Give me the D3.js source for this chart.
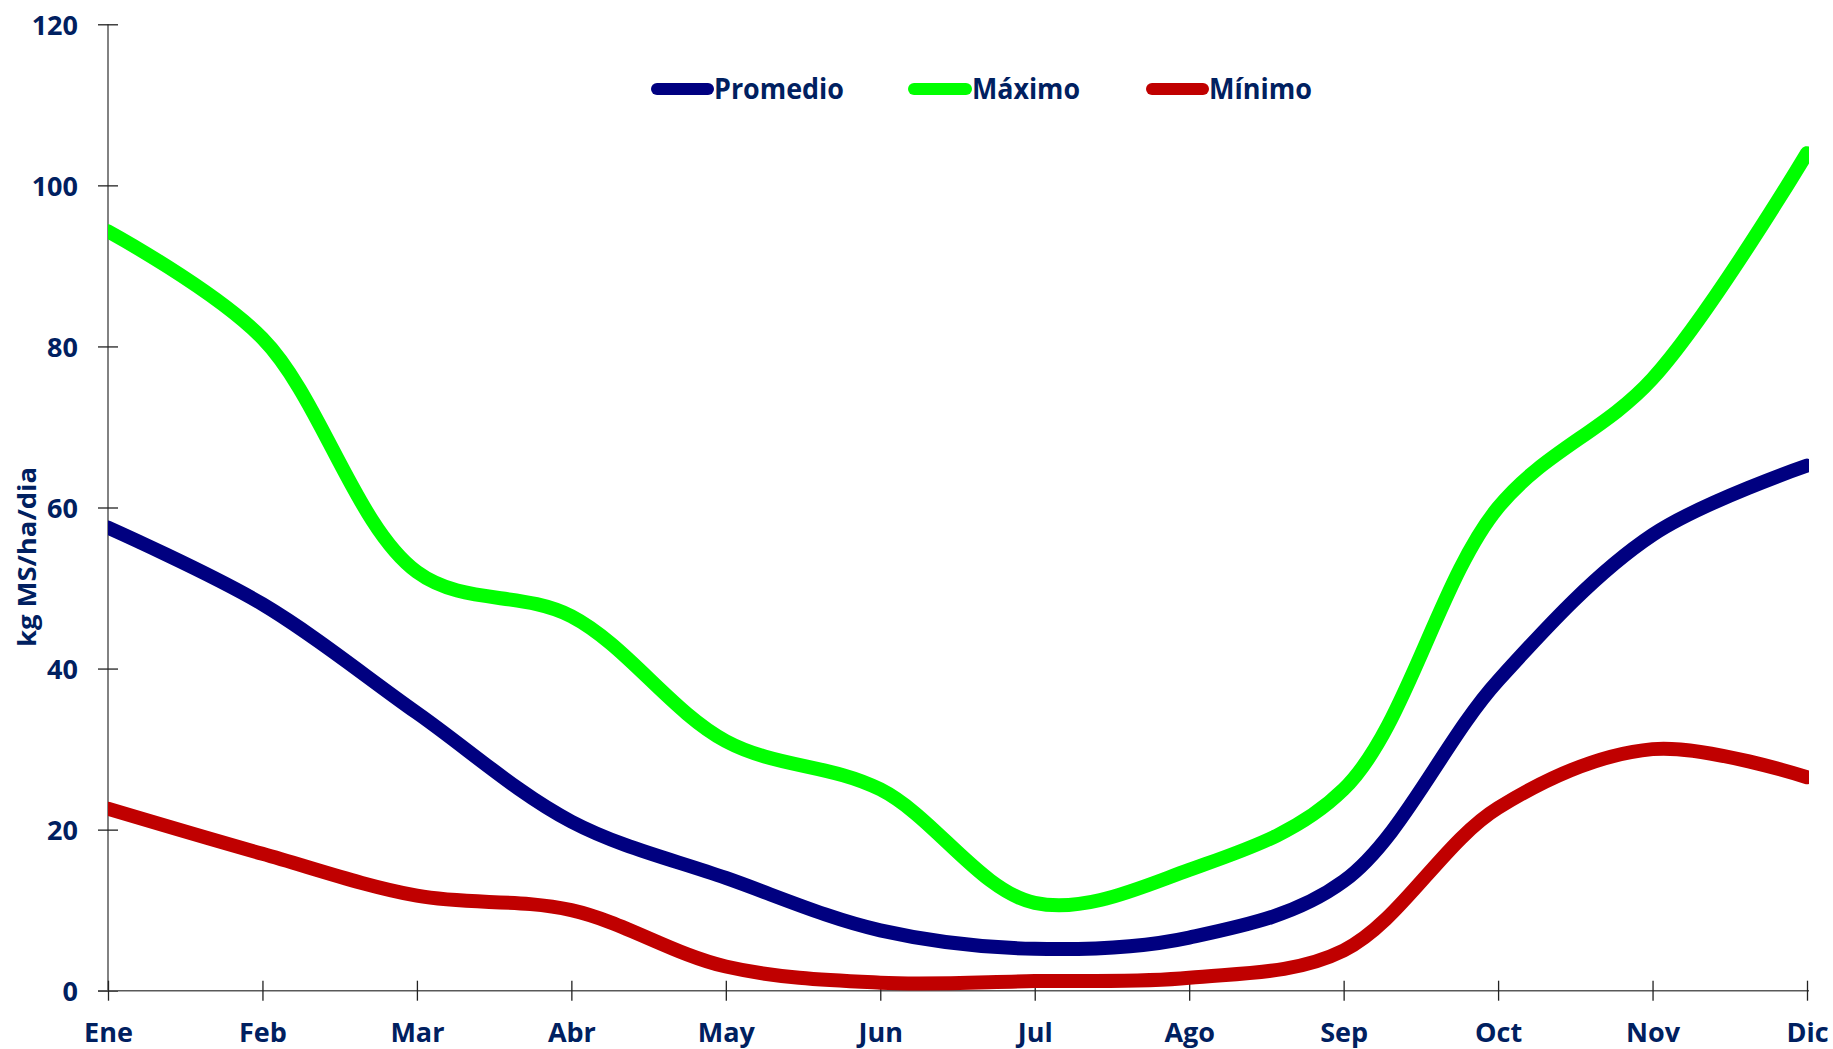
<!DOCTYPE html>
<html>
<head>
<meta charset="utf-8">
<script src="https://cdn.jsdelivr.net/npm/d3@7"></script>
<style>
  html, body { margin: 0; padding: 0; background: #fff; }
  svg { display: block; }
  text { font-family: "Open Sans", "DejaVu Sans", sans-serif; font-weight: 700; fill: #002060; }
</style>
</head>
<body>
<svg id="chart" width="1833" height="1049"></svg>
<script>
// Monthly pasture growth rate (kg MS/ha/dia)
const months = ["Ene", "Feb", "Mar", "Abr", "May", "Jun", "Jul", "Ago", "Sep", "Oct", "Nov", "Dic"];
const promedio = [57.5, 48, 34.5, 21, 14, 7.5, 5.2, 6.6, 13.6, 38.5, 56.6, 65.2];
const maximo   = [94.3, 81, 52, 46.5, 31, 25, 10.9, 15, 25, 60, 76, 104];
const minimo   = [22.6, 17, 11.8, 10, 3, 1, 1.2, 1.6, 5, 22.7, 30, 26.5];
const yTicks = [0, 20, 40, 60, 80, 100, 120];

const series = [
  { name: "Promedio", values: promedio, color: "#000080" },
  { name: "Máximo",   values: maximo,   color: "#00ff00" },
  { name: "Mínimo",   values: minimo,   color: "#c00000" }
];

const svg = d3.select("#chart");
const plotLeft = 108, plotRight = 1807, plotTop = 24.3, plotBottom = 990.7;

const x = d3.scalePoint().domain(months).range([plotLeft, plotRight]);
const y = d3.scaleLinear().domain([0, 120]).range([plotBottom, plotTop]);

const axisColor = "#595959";

// Y axis
const yAxis = svg.append("g")
  .attr("transform", `translate(${plotLeft},0)`)
  .call(d3.axisLeft(y).tickValues(yTicks).tickSize(10).tickPadding(20));
yAxis.select(".domain").attr("stroke", axisColor).attr("stroke-width", 1.5)
  .attr("d", `M0,${plotTop}V${plotBottom}`);
yAxis.selectAll(".tick line").attr("x1", -10).attr("x2", 10)
  .attr("stroke", "#222").attr("stroke-width", 1.3);
yAxis.selectAll(".tick text")
  .attr("x", -30).attr("dy", "0.36em")
  .style("font-size", "27px").style("font-family", "'Open Sans', sans-serif")
  .style("font-weight", 700).attr("fill", "#002060");

// X axis
const xAxis = svg.append("g")
  .attr("transform", `translate(0,${plotBottom})`)
  .call(d3.axisBottom(x).tickSize(10).tickPadding(20));
xAxis.select(".domain").attr("stroke", axisColor).attr("stroke-width", 1.5)
  .attr("d", `M${plotLeft - 10},0H${plotRight + 2}`);
xAxis.selectAll(".tick line").attr("y1", -10).attr("y2", 10)
  .attr("stroke", "#222").attr("stroke-width", 1.3);
xAxis.selectAll(".tick text")
  .attr("y", 51).attr("dy", 0)
  .style("font-size", "27px").style("font-family", "'Open Sans', sans-serif")
  .style("font-weight", 700).attr("fill", "#002060");

// Y axis title
svg.append("text")
  .attr("transform", "translate(36,557) rotate(-90)")
  .attr("text-anchor", "middle")
  .attr("textLength", 180)
  .attr("lengthAdjust", "spacingAndGlyphs")
  .style("font-size", "25px")
  .text("kg MS/ha/dia");

// Plot area clip
svg.append("clipPath").attr("id", "plotClip")
  .append("rect").attr("x", plotLeft).attr("y", 0)
  .attr("width", plotRight + 2 - plotLeft).attr("height", 1049);

const line = d3.line()
  .x((d, i) => x(months[i]))
  .y(d => y(d))
  .curve(d3.curveCatmullRom.alpha(0.5));

svg.append("g").attr("clip-path", "url(#plotClip)")
  .selectAll("path")
  .data(series)
  .join("path")
  .attr("d", d => line(d.values))
  .attr("fill", "none")
  .attr("stroke", d => d.color)
  .attr("stroke-width", 14)
  .attr("stroke-linejoin", "round")
  .attr("stroke-linecap", "round");

// Legend
const legendItems = [
  { s: series[0], x0: 657, x1: 708, tx: 714, tw: 130 },
  { s: series[1], x0: 914, x1: 966, tx: 972, tw: 108 },
  { s: series[2], x0: 1152, x1: 1203, tx: 1209, tw: 103 }
];
const legend = svg.append("g");
legend.selectAll("line")
  .data(legendItems)
  .join("line")
  .attr("x1", d => d.x0).attr("x2", d => d.x1)
  .attr("y1", 89).attr("y2", 89)
  .attr("stroke", d => d.s.color)
  .attr("stroke-width", 12)
  .attr("stroke-linecap", "round");
legend.selectAll("text")
  .data(legendItems)
  .join("text")
  .attr("x", d => d.tx).attr("y", 99)
  .attr("textLength", d => d.tw)
  .attr("lengthAdjust", "spacingAndGlyphs")
  .style("font-size", "28px")
  .text(d => d.s.name);
</script>
</body>
</html>
